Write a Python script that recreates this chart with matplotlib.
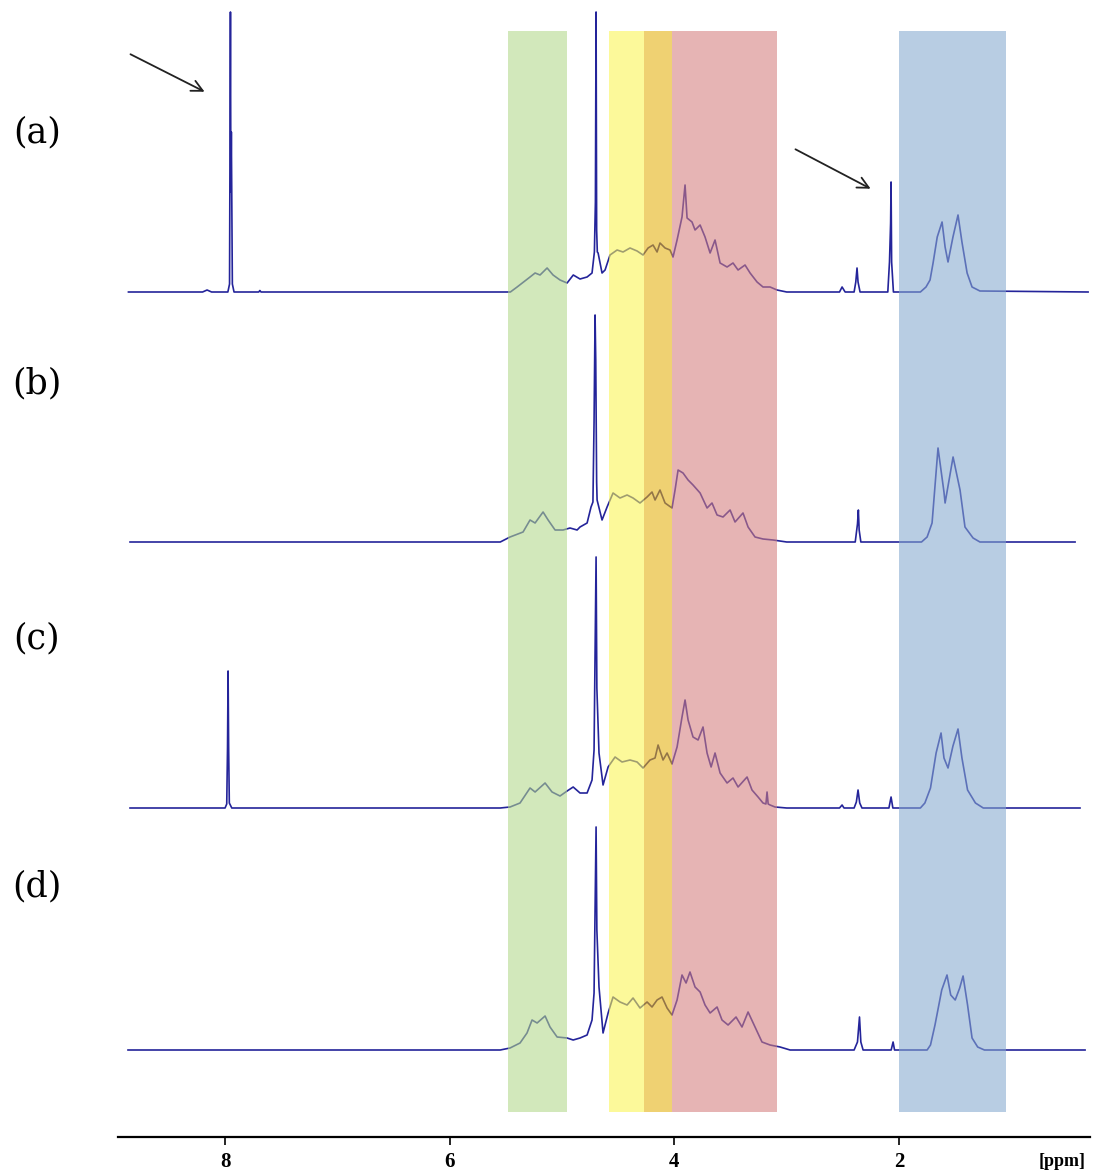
import numpy as np
import matplotlib.pyplot as plt
from matplotlib.colors import to_rgb

# 1H NMR traces, (ppm, intensity above baseline)
spec_a = [(8.86, 0), (8.20, 0), (8.16, 2), (8.12, 0), (7.99, 0), (7.975, 0), (7.960, 8),
          (7.952, 280), (7.948, 100), (7.944, 160), (7.935, 8), (7.92, 0),
          (7.70, 0), (7.69, 1.5), (7.68, 0), (5.55, 0),
          (5.46, 0), (5.40, 5), (5.285, 15), (5.24, 19), (5.196, 17), (5.133, 24), (5.08, 17),
          (5.018, 12), (4.955, 9), (4.90, 17), (4.84, 13), (4.777, 15), (4.733, 19),
          (4.712, 40), (4.703, 90), (4.697, 280), (4.692, 62), (4.686, 40), (4.679, 39),
          (4.644, 19), (4.617, 22), (4.573, 37), (4.510, 42), (4.457, 40), (4.395, 44),
          (4.332, 41), (4.279, 37), (4.234, 44), (4.190, 47), (4.154, 40), (4.128, 49),
          (4.083, 44), (4.039, 42), (4.012, 35), (3.976, 52), (3.932, 75), (3.905, 107),
          (3.887, 74), (3.843, 70), (3.816, 62), (3.771, 67), (3.727, 55), (3.682, 39),
          (3.638, 52), (3.593, 29), (3.531, 25), (3.478, 29), (3.433, 22), (3.371, 27),
          (3.326, 19), (3.264, 10), (3.211, 5), (3.148, 5), (3.086, 2), (3.00, 0),
          (2.53, 0), (2.507, 5), (2.48, 0), (2.40, 0), (2.385, 10), (2.374, 24), (2.365, 10),
          (2.347, 0), (2.10, 0), (2.085, 30), (2.075, 69), (2.071, 110), (2.066, 30), (2.05, 0),
          (1.81, 0), (1.76, 5), (1.724, 12), (1.697, 29), (1.66, 55), (1.617, 70), (1.59, 45),
          (1.564, 30), (1.52, 55), (1.475, 77), (1.44, 50), (1.394, 19), (1.35, 5), (1.28, 1),
          (0.317, 0)]

spec_b = [(8.846, 0), (5.55, 0), (5.463, 5), (5.347, 10), (5.285, 22), (5.24, 19), (5.169, 30),
          (5.124, 22), (5.062, 12), (4.991, 12), (4.929, 14), (4.866, 12), (4.840, 15),
          (4.777, 19), (4.742, 35), (4.725, 40), (4.715, 120), (4.706, 227), (4.700, 182),
          (4.692, 60), (4.688, 42), (4.644, 22), (4.599, 35), (4.546, 49), (4.484, 44),
          (4.421, 47), (4.368, 44), (4.306, 39), (4.243, 45), (4.199, 50), (4.172, 42),
          (4.128, 52), (4.083, 39), (4.021, 34), (3.994, 52), (3.967, 72), (3.923, 69),
          (3.878, 62), (3.834, 57), (3.771, 49), (3.709, 34), (3.665, 39), (3.620, 27),
          (3.567, 25), (3.504, 32), (3.460, 20), (3.389, 29), (3.344, 15), (3.282, 5),
          (3.211, 3), (3.122, 2), (3.00, 0),
          (2.42, 0), (2.39, 0), (2.37, 18), (2.362, 32), (2.355, 12), (2.34, 0),
          (1.80, 0), (1.75, 5), (1.706, 19), (1.653, 94), (1.60, 50), (1.590, 39),
          (1.519, 85), (1.457, 52), (1.413, 15), (1.341, 4), (1.28, 0), (0.433, 0)]

spec_c = [(8.846, 0), (8.00, 0), (7.985, 4), (7.978, 60), (7.973, 137), (7.968, 60),
          (7.962, 5), (7.94, 0), (5.55, 0), (5.463, 1), (5.374, 5), (5.285, 20), (5.24, 16),
          (5.151, 25), (5.089, 16), (5.018, 12), (4.955, 17), (4.901, 21), (4.840, 15),
          (4.777, 15), (4.733, 28), (4.715, 58), (4.697, 251), (4.690, 120), (4.671, 55),
          (4.635, 23), (4.590, 41), (4.528, 51), (4.466, 46), (4.395, 48), (4.332, 46),
          (4.279, 40), (4.217, 48), (4.172, 50), (4.145, 63), (4.101, 48), (4.065, 55),
          (4.021, 44), (3.976, 61), (3.932, 91), (3.905, 108), (3.878, 88), (3.834, 71),
          (3.789, 68), (3.745, 81), (3.709, 55), (3.673, 41), (3.638, 55), (3.593, 35),
          (3.531, 25), (3.478, 30), (3.433, 21), (3.353, 31), (3.309, 18), (3.255, 11),
          (3.211, 5), (3.185, 4), (3.175, 16), (3.165, 4), (3.148, 3), (3.104, 1), (3.00, 0),
          (2.53, 0), (2.507, 3), (2.49, 0), (2.40, 0), (2.38, 6), (2.365, 18), (2.35, 5),
          (2.33, 0), (2.09, 0), (2.071, 11), (2.055, 0), (1.81, 0), (1.77, 5), (1.72, 20),
          (1.67, 55), (1.626, 75), (1.60, 50), (1.564, 40), (1.52, 62), (1.475, 79),
          (1.44, 50), (1.39, 18), (1.32, 5), (1.25, 0), (0.389, 0)]

spec_d = [(8.864, 0), (5.55, 0), (5.463, 2), (5.374, 7), (5.312, 17), (5.267, 30),
          (5.222, 27), (5.151, 34), (5.107, 23), (5.044, 13), (4.955, 12), (4.901, 10),
          (4.840, 12), (4.777, 15), (4.733, 30), (4.715, 57), (4.697, 223), (4.690, 120),
          (4.671, 63), (4.635, 17), (4.590, 37), (4.546, 53), (4.484, 48), (4.421, 45),
          (4.368, 52), (4.306, 42), (4.243, 48), (4.199, 43), (4.154, 50), (4.110, 53),
          (4.065, 42), (4.021, 35), (3.976, 50), (3.932, 75), (3.896, 67), (3.861, 78),
          (3.816, 63), (3.771, 58), (3.727, 45), (3.682, 37), (3.620, 43), (3.576, 30),
          (3.522, 25), (3.451, 33), (3.398, 23), (3.344, 38), (3.282, 23), (3.220, 8),
          (3.148, 5), (3.059, 3), (2.970, 0),
          (2.40, 0), (2.37, 8), (2.352, 33), (2.34, 8), (2.32, 0), (2.07, 0), (2.053, 8),
          (2.04, 0), (1.75, 0), (1.72, 5), (1.68, 25), (1.62, 60), (1.573, 75), (1.54, 55),
          (1.50, 50), (1.46, 62), (1.430, 74), (1.39, 45), (1.35, 12), (1.30, 3),
          (1.24, 0), (0.344, 0)]

spectra = [spec_a, spec_b, spec_c, spec_d]
labels = ['(a)', '(b)', '(c)', '(d)']
baselines = [845, 595, 329, 87]
label_y = [132, 383, 638, 886]  # pixel rows of the panel letters

# highlighted chemical shift regions (ppm from, ppm to, colour)
regions = [(5.48, 4.955, '#d3e9bb'),
           (4.58, 4.27, '#fcf99a'),
           (4.27, 4.02, '#f0d272'),
           (4.02, 3.09, '#e6b5b5'),
           (2.00, 1.047, '#b9cde3')]

xticks = [8, 6, 4, 2]

W, H = 1094, 1174
fig = plt.figure(figsize=(W / 100, H / 100), dpi=100)
ax = fig.add_axes([118 / W, 37 / H, (1090 - 118) / W, 1137 / H])
ax.set_xlim(8.953, 0.30)
ax.set_ylim(0, 1137)

line_col = '#24249a'
for spec, base in zip(spectra, baselines):
    x, y = zip(*spec)
    ax.plot(x, np.array(y) + base, color=line_col, lw=1.2, zorder=2)

# translucent bands drawn over the traces
alpha = 0.58
for lo, hi, col in regions:
    t = np.array(to_rgb(col))
    rgb = np.clip(1 - (1 - t) / alpha, 0, 1)
    ax.fill_betweenx([25, 1106], lo, hi, color=rgb, alpha=alpha, lw=0, zorder=3)

# arrows pointing at the acid signals in (a)
arrow = dict(arrowstyle='->', lw=1.3, color='#222222', mutation_scale=20)
ax.annotate('', xy=(8.160, 1044), xytext=(8.864, 1084), arrowprops=arrow, zorder=4)
ax.annotate('', xy=(2.231, 947), xytext=(2.944, 989), arrowprops=arrow, zorder=4)

for s in ['top', 'right', 'left']:
    ax.spines[s].set_visible(False)
ax.spines['bottom'].set_linewidth(1.6)
ax.set_yticks([])
ax.set_xticks(xticks)
ax.set_xticklabels([str(t) for t in xticks], fontfamily='Liberation Serif',
                   fontweight='bold', fontsize=15)
ax.tick_params(axis='x', direction='out', length=6, width=1.2, pad=5)

fig.text(1062 / W, 1 - 1161 / H, '[ppm]', ha='center', va='center',
         fontfamily='Liberation Serif', fontweight='bold', fontsize=13)

for lab, py in zip(labels, label_y):
    fig.text(37 / W, 1 - py / H, lab, ha='center', va='center',
             fontfamily='DejaVu Serif', fontsize=25)

fig.savefig('out.png', dpi=100)
